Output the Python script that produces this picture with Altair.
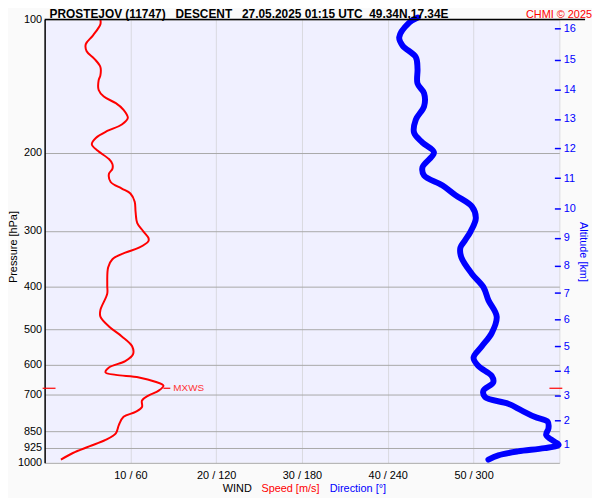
import altair as alt
import pandas as pd

# ---- data ----
speed_p = [100, 102.6, 108.9, 113.7, 118.0, 122.7, 128.0, 133.7, 137.1, 144.3, 149.3, 154.5, 159.9, 166.8,
           172.6, 178.5, 184.8, 191.2, 197.8, 206.5, 211.8, 217.3, 222.9, 232.6, 240.7, 247.0, 257.7, 271.3,
           288.0, 300.5, 311.0, 316.2, 327.2, 335.7, 347.3, 362.5, 398.1, 415.4, 452.4, 468.1, 492.7, 518.6,
           546.0, 569.6, 589.4, 609.7, 625.5, 633.3, 641.7, 656.3, 669.9, 687.3, 705.1, 723.3, 748.2, 767.6,
           787.5, 822.1, 857.8, 887.7, 918.2, 950.1, 983.3]
speed_v = [6.5, 6.5, 5.6, 4.8, 4.9, 5.8, 6.5, 6.5, 6.3, 6.3, 6.9, 8.3, 9.2, 9.7,
           9.0, 7.3, 6.0, 5.5, 6.2, 7.5, 7.9, 7.9, 7.5, 7.7, 9.0, 10.0, 10.5, 10.6,
           10.8, 11.5, 12.1, 12.1, 11.0, 9.4, 7.9, 7.4, 7.3, 7.3, 6.5, 6.5, 7.5, 9.0,
           10.2, 10.3, 9.4, 7.5, 7.1, 8.3, 11.0, 12.9, 13.85, 13.3, 12.1, 11.35, 11.35, 10.6,
           9.2, 8.65, 8.3, 7.1, 5.2, 3.3, 1.9]

dir_p = [99.0, 101.7, 109.8, 114.6, 121.6, 129.2, 139.5, 146.8, 157.1, 168.3, 180.1, 189.6, 199.5, 215.4,
         224.8, 236.6, 249.0, 264.4, 280.6, 300.5, 316.2, 327.2, 344.4, 375.0, 401.6, 429.9, 468.1, 509.7,
         546.0, 579.4, 604.7, 636.6, 658.4, 687.3, 711.0, 735.6, 761.3, 787.5, 808.0, 836.1, 865.3, 895.1,
         910.7, 926.4, 942.2, 961.8, 983.3]
dir_v = [261, 255, 248, 250.4, 259.6, 260.8, 260.8, 265.4, 265.4, 259.6, 258.4, 264.3, 272.3, 264.3,
         265.4, 278.1, 287.3, 298.9, 301.6, 298, 293.7, 290.8, 291.5, 298.9, 306.9, 310.4, 316.2, 312.7,
         305.8, 300.0, 303.4, 312.7, 313.8, 306.9, 308.1, 324.2, 333.5, 342.7, 351.9, 352.4, 350.8, 356.5,
         359.5, 349.6, 331.1, 317.3, 310.4]

pressure_ticks = [100, 200, 300, 400, 500, 600, 700, 850, 925, 1000]
speed_ticks = [10, 20, 30, 40, 50, 60]

alt_km = [16, 15, 14, 13, 12, 11, 10, 9, 8, 7, 6, 5, 4, 3, 2, 1]
alt_p = [104.9, 123.2, 143.8, 167.7, 195.2, 228.0, 266.7, 311.0, 359.4, 414.1, 474.6, 546.0, 620.4,
         705.1, 801.4, 907.6]

mxws_p = [678.9]
mxws_speed = [13.85]
mxws_label = ["MXWS"]

title_text = "PROSTEJOV (11747)\u00a0\u00a0\u00a0DESCENT\u00a0\u00a0\u00a027.05.2025 01:15 UTC\u00a0\u00a049.34N,17.34E"

# ---- frames ----
speed_df = pd.DataFrame({"p": speed_p, "speed": speed_v, "i": list(range(len(speed_p)))})
dir_df = pd.DataFrame({"p": dir_p, "dir": dir_v, "i": list(range(len(dir_p)))})
alt_df = pd.DataFrame({"p": alt_p, "km": alt_km})
mx_df = pd.DataFrame({"p": mxws_p, "speed": mxws_speed, "label": mxws_label})
one = pd.DataFrame({"k": [0]})

FONT = "Liberation Sans"
RED = "#ff0000"
BLUE = "#0000ff"


def yscale():
    return alt.Scale(type="log", domain=[100, 1000], reverse=True, nice=False)


def xscale(mx):
    return alt.Scale(domain=[0, mx], nice=False, zero=True)


speed_line = alt.Chart(speed_df).mark_line(
    color=RED, strokeWidth=2, interpolate="catmull-rom", clip=False
).encode(
    x=alt.X("speed:Q", scale=xscale(60), title=None,
            axis=alt.Axis(values=speed_ticks,
                          labelExpr="datum.value < 60 ? datum.value + ' / ' + datum.value * 6 : ''",
                          grid=True, gridColor="#d9d9e0", gridWidth=1, ticks=False, domain=False,
                          labelFontSize=11, labelColor="#000000", labelPadding=7,
                          labelFlush=False, labelOverlap=False, labelFont=FONT)),
    y=alt.Y("p:Q", scale=yscale(), title=None,
            axis=alt.Axis(values=pressure_ticks, format="d", grid=True, gridColor="#a8a8a8", gridWidth=1,
                          ticks=False, domain=True, domainColor="#000000", domainWidth=1.5,
                          labelFontSize=11, labelColor="#000000", labelPadding=3,
                          labelOverlap=False, labelFont=FONT)),
    order="i:Q",
)

dir_line = alt.Chart(dir_df).mark_line(
    color=BLUE, strokeWidth=6, interpolate="catmull-rom", strokeCap="round", clip=False
).encode(
    x=alt.X("dir:Q", scale=xscale(360), axis=None),
    y=alt.Y("p:Q", scale=yscale(), axis=None),
    order="i:Q",
)

alt_labels = "[" + ",".join(str(k) for k in alt_km) + "][indexof([" + ",".join(str(p) for p in alt_p) + "], datum.value)]"

alt_axis = alt.Chart(alt_df).mark_point(opacity=0).encode(
    y=alt.Y("p:Q", scale=yscale(), title=None,
            axis=alt.Axis(orient="right", values=alt_p, labelExpr=alt_labels, grid=False,
                          ticks=True, tickColor=BLUE, tickSize=6, tickWidth=1.5, domain=False,
                          offset=-5, labelColor=BLUE, labelFontSize=11, labelPadding=3,
                          labelOverlap=False, labelFont=FONT)),
)

mx_left = alt.Chart(mx_df).mark_rule(color=RED, strokeWidth=1.2).encode(
    x=alt.value(-2), x2=alt.value(11), y=alt.Y("p:Q", scale=yscale(), axis=None))
mx_right = alt.Chart(mx_df).mark_rule(color=RED, strokeWidth=1.2).encode(
    x=alt.value(510), x2=alt.value(523), y=alt.Y("p:Q", scale=yscale(), axis=None))
mx_tick = alt.Chart(mx_df).transform_calculate(s2="datum.speed + 0.8").mark_rule(
    color=RED, strokeWidth=1.2).encode(
    x=alt.X("speed:Q", scale=xscale(60), axis=None), x2="s2:Q",
    y=alt.Y("p:Q", scale=yscale(), axis=None))
mx_text = alt.Chart(mx_df).mark_text(
    color="#ff3333", fontSize=10, align="left", baseline="middle", dx=10, font=FONT).encode(
    x=alt.X("speed:Q", scale=xscale(60), axis=None),
    y=alt.Y("p:Q", scale=yscale(), axis=None), text="label:N")

top_rule = alt.Chart(one).mark_rule(color="#000000", strokeWidth=1.5).encode(
    x=alt.value(0), x2=alt.value(546), y=alt.value(0))


def label(txt, x, y, color="#000000", size=11, weight="normal", align="left", angle=0,
          baseline="middle"):
    df = pd.DataFrame({"t": [txt]})
    return alt.Chart(df).mark_text(
        color=color, fontSize=size, fontWeight=weight, align=align, baseline=baseline,
        angle=angle, font=FONT).encode(x=alt.value(x), y=alt.value(y), text="t:N")


title = label(title_text, 5, -1.5, size=12, weight="bold", baseline="alphabetic")
chmi = label("CHMI \u00a9 2025", 553, -1.5, color=RED, size=11, align="right", baseline="alphabetic")
p_title = label("Pressure [hPa]", -31, 230, size=11, align="center", angle=270)
a_title = label("Altitude [km]", 544, 235, color=BLUE, size=11, align="center", angle=90)
wind = label("WIND", 180, 474.5, size=11)
spd = label("Speed [m/s]", 219, 474.5, color=RED, size=11)
drc = label("Direction [\u00b0]", 288, 474.5, color=BLUE, size=11)

chart = alt.layer(
    speed_line, dir_line, alt_axis, mx_left, mx_right, mx_tick, mx_text, top_rule,
    title, chmi, p_title, a_title, wind, spd, drc
).resolve_scale(x="independent", y="independent").properties(
    width=520, height=448,
    padding={"left": 37, "top": 9, "right": 33, "bottom": 33},
    autosize=alt.AutoSizeParams(type="none"),
    background="#fafafa",
).configure_view(fill="#f0f0ff", strokeWidth=0).configure_axis(labelFont=FONT)

chart.save("out.html", embed_options={"renderer": "svg", "actions": False})
